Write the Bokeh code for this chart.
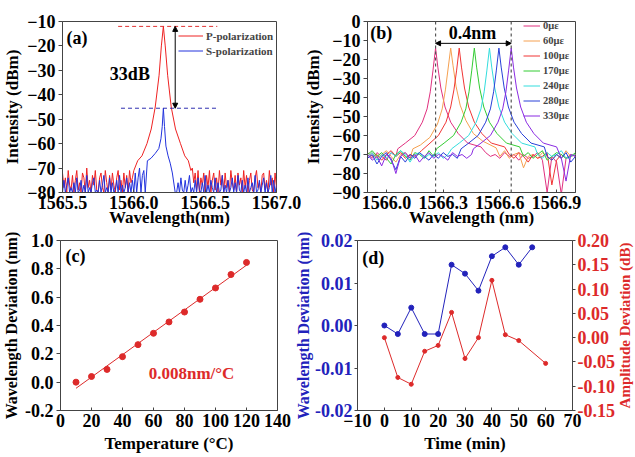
import numpy as np
from bokeh.plotting import figure
from bokeh.layouts import row, column
from bokeh.models import (Range1d, FixedTicker, NumeralTickFormatter, Span, Arrow,
                          NormalHead, Label, LinearAxis)
from bokeh.embed import file_html
from bokeh.resources import INLINE

FONT = "Liberation Serif"
AX = "#444444"

# ---------------- (a) polarization spectra ----------------
a_grid = [1565.50, 1565.51, 1565.52, 1565.53, 1565.54, 1565.55, 1565.56, 1565.57, 1565.58, 1565.59,
          1565.60, 1565.61, 1565.62, 1565.63, 1565.64, 1565.65, 1565.66, 1565.67, 1565.68, 1565.69,
          1565.70, 1565.71, 1565.72, 1565.73, 1565.74, 1565.75, 1565.76, 1565.77, 1565.78, 1565.79,
          1565.80, 1565.81, 1565.82, 1565.83, 1565.84, 1565.85, 1565.86, 1565.87, 1565.88, 1565.89,
          1565.90, 1565.91, 1565.92, 1565.93, 1565.94, 1565.95, 1565.96, 1565.97, 1565.98, 1565.99,
          1566.00, 1566.01, 1566.02, 1566.03, 1566.04, 1566.05, 1566.06, 1566.07, 1566.08, 1566.09,
          1566.10, 1566.11, 1566.12, 1566.13, 1566.14, 1566.15, 1566.16, 1566.17, 1566.18, 1566.19,
          1566.20, 1566.21, 1566.22, 1566.23, 1566.24, 1566.25, 1566.26, 1566.27, 1566.28, 1566.29,
          1566.30, 1566.31, 1566.32, 1566.33, 1566.34, 1566.35, 1566.36, 1566.37, 1566.38, 1566.39,
          1566.40, 1566.41, 1566.42, 1566.43, 1566.44, 1566.45, 1566.46, 1566.47, 1566.48, 1566.49,
          1566.50, 1566.51, 1566.52, 1566.53, 1566.54, 1566.55, 1566.56, 1566.57, 1566.58, 1566.59,
          1566.60, 1566.61, 1566.62, 1566.63, 1566.64, 1566.65, 1566.66, 1566.67, 1566.68, 1566.69,
          1566.70, 1566.71, 1566.72, 1566.73, 1566.74, 1566.75, 1566.76, 1566.77, 1566.78, 1566.79,
          1566.80, 1566.81, 1566.82, 1566.83, 1566.84, 1566.85, 1566.86, 1566.87, 1566.88, 1566.89,
          1566.90, 1566.91, 1566.92, 1566.93, 1566.94, 1566.95, 1566.96, 1566.97, 1566.98, 1566.99,
          1567.00]
a_p_peak_wl = [1566.00, 1566.027, 1566.057, 1566.092, 1566.122, 1566.15, 1566.177, 1566.193, 1566.207,
               1566.22, 1566.237, 1566.262, 1566.292, 1566.327, 1566.357, 1566.382, 1566.40]
a_p_peak_db = [-71, -67, -65, -60, -54, -45, -32, -20, -12, -20, -32, -45, -54, -60, -65, -67, -71]
a_p_noise_left = [-72, -78, -74, -80, -71, -77, -79, -73, -80, -75,
                  -71, -79, -76, -80, -72, -74, -80, -70, -78, -75,
                  -80, -73, -77, -71, -79, -80, -74, -72, -78, -80,
                  -71, -76, -80, -73, -79, -72, -77, -80, -74, -71,
                  -79, -75, -80, -72, -78, -73, -80, -71, -76, -74]
a_p_noise_right = [-70, -76, -72, -79, -71, -80, -74, -77, -72, -80,
                   -73, -78, -71, -80, -75, -72, -79, -74, -80, -71,
                   -77, -73, -80, -72, -78, -75, -80, -71, -76, -79,
                   -73, -80, -72, -77, -74, -80, -71, -78, -73, -80,
                   -75, -72, -79, -80, -74, -71, -78, -76, -80, -73,
                   -72, -79, -75, -80, -71, -77, -74, -80, -72, -78]
a_s_peak_wl = [1566.08, 1566.095, 1566.12, 1566.15, 1566.175, 1566.19, 1566.199, 1566.207,
               1566.215, 1566.225, 1566.24, 1566.255, 1566.27, 1566.29]
a_s_peak_db = [-80, -67, -66, -64, -62, -58, -53, -45.5, -53, -61, -65, -68, -72, -80]
a_s_noise_left = [-80, -75, -80, -77, -74, -80, -78, -80, -76, -80,
                  -74, -80, -79, -75, -80, -77, -80, -73, -80, -78,
                  -80, -76, -74, -80, -79, -80, -75, -80, -77, -73,
                  -80, -78, -80, -74, -80, -76, -80, -79, -75, -80,
                  -73, -80, -77, -80, -78, -74, -80, -76, -80, -75,
                  -80, -72, -80, -74, -70, -80, -73, -71]
a_s_noise_right = [-80, -76, -80, -74, -79, -80, -75, -80, -77, -73,
                   -80, -78, -80, -75, -80, -74, -79, -80, -76, -80,
                   -73, -80, -77, -80, -75, -78, -80, -74, -80, -76,
                   -80, -79, -73, -80, -77, -80, -75, -80, -78, -74,
                   -80, -76, -80, -73, -79, -80, -75, -80, -77, -80,
                   -74, -80, -78, -76, -80, -73, -80, -79, -75, -80,
                   -77, -74, -80, -76, -80, -78, -73, -80, -75, -80,
                   -77]
a_labels = ["P-polarization", "S-polarization"]
a_p_level = -12
a_s_level = -45.5
a_p_dash_wl = [1565.89, 1566.585]
a_s_dash_wl = [1565.91, 1566.59]
a_arrow_wl = 1566.29
a_xticks = [1565.5, 1566.0, 1566.5, 1567.0]
a_yticks = [-80, -70, -60, -50, -40, -30, -20, -10]

# ---------------- (b) strain spectra ----------------
b_grid = [1565.900, 1565.925, 1565.950, 1565.975, 1566.000, 1566.025, 1566.050, 1566.075, 1566.100,
          1566.125, 1566.150, 1566.175, 1566.200, 1566.225, 1566.250, 1566.275, 1566.300, 1566.325,
          1566.350, 1566.375, 1566.400, 1566.425, 1566.450, 1566.475, 1566.500, 1566.525, 1566.550,
          1566.575, 1566.600, 1566.625, 1566.650, 1566.675, 1566.700, 1566.725, 1566.750, 1566.775,
          1566.800, 1566.825, 1566.850, 1566.875, 1566.900, 1566.925, 1566.950, 1566.975, 1567.000]
b_labels = ["0με", "60με", "100με", "170με", "240με", "280με", "330με"]
b_colors = ["#E0307F", "#F5A050", "#F03535", "#33CC33", "#33DDDD", "#2840D8", "#8A2BE2"]
b_peak_wl = [
    [1566.06, 1566.10, 1566.15, 1566.19, 1566.215, 1566.232, 1566.246, 1566.26, 1566.272, 1566.288, 1566.31, 1566.34, 1566.38, 1566.43, 1566.50],
    [1566.14, 1566.18, 1566.23, 1566.27, 1566.295, 1566.312, 1566.326, 1566.34, 1566.352, 1566.368, 1566.39, 1566.42, 1566.46, 1566.51, 1566.58],
    [1566.185, 1566.225, 1566.275, 1566.315, 1566.34, 1566.357, 1566.371, 1566.385, 1566.397, 1566.413, 1566.435, 1566.465, 1566.505, 1566.555, 1566.625],
    [1566.265, 1566.305, 1566.355, 1566.395, 1566.42, 1566.437, 1566.451, 1566.465, 1566.477, 1566.493, 1566.515, 1566.545, 1566.585, 1566.635, 1566.705],
    [1566.345, 1566.385, 1566.435, 1566.475, 1566.50, 1566.517, 1566.531, 1566.545, 1566.557, 1566.573, 1566.595, 1566.625, 1566.665, 1566.715, 1566.785],
    [1566.395, 1566.435, 1566.485, 1566.525, 1566.55, 1566.567, 1566.581, 1566.595, 1566.607, 1566.623, 1566.645, 1566.675, 1566.715, 1566.765, 1566.835],
    [1566.46, 1566.50, 1566.55, 1566.59, 1566.615, 1566.632, 1566.646, 1566.66, 1566.672, 1566.688, 1566.71, 1566.74, 1566.78, 1566.83, 1566.90],
]
b_peak_db = [
    [-67, -64, -60, -53, -46, -37, -26, -14, -24, -35, -45, -53, -59, -64, -66],
    [-67, -65, -61, -54, -46, -36, -25, -14, -23, -34, -44, -52, -59, -63, -66.5],
    [-68, -64.5, -60, -53, -45, -36, -26, -14, -24, -35, -45, -53, -59, -64, -66],
    [-67, -64, -60, -53, -46, -37, -26, -14, -24, -35, -45, -53, -59, -64, -66],
    [-67, -64, -60, -53, -46, -37, -26, -14, -24, -35, -45, -53, -59, -64, -66],
    [-67, -64, -60, -53, -46, -37, -26, -14, -24, -35, -45, -53, -59, -64, -66],
    [-67, -64, -60, -53, -46, -37, -26, -14, -24, -35, -45, -53, -59, -64, -66],
]
b_noise_left = [
    [-70, -72, -69, -71, -73, -69, -71],
    [-71, -69, -72, -70, -68, -71, -74, -70, -69, -72],
    [-69, -71, -70, -73, -70, -68, -71, -69, -72, -70, -71, -69],
    [-70, -68, -71, -69, -72, -75, -70, -68, -71, -73, -69, -70, -72, -68, -71],
    [-71, -69, -73, -70, -72, -69, -71, -68, -70, -74, -70, -69, -72, -70, -71, -69, -72, -70],
    [-72, -70, -75, -71, -69, -73, -78, -71, -74, -70, -72, -69, -71, -73, -70, -72, -69, -71, -70, -72],
    [-70, -73, -71, -76, -70, -72, -80, -71, -69, -72, -70, -74, -71, -69, -72, -70, -71, -73, -69, -71, -70, -72, -70],
]
b_noise_right = [
    [-69, -71, -70, -72, -69, -71, -70, -73, -70, -72, -71, -69, -73, -90, -71, -74, -91, -72, -70, -71],
    [-71, -68, -72, -70, -69, -77, -71, -70, -72, -69, -71, -73, -70, -72, -68, -71, -70],
    [-70, -72, -69, -71, -74, -70, -72, -71, -69, -86, -73, -70, -72, -71, -70],
    [-71, -69, -72, -70, -68, -73, -71, -69, -70, -72, -71, -69],
    [-70, -72, -69, -71, -70, -68, -72, -71, -70],
    [-71, -73, -70, -72, -69, -74, -71],
    [-72, -84, -70, -71],
]
b_mark_wl = [1566.26, 1566.66]
b_arrow_db = -11.5
b_xticks = [1566.0, 1566.3, 1566.6, 1566.9]
b_yticks = [-90, -80, -70, -60, -50, -40, -30, -20, -10, 0]

# ---------------- (c) temperature ----------------
c_temp = [10, 20, 30, 40, 50, 60, 70, 80, 90, 100, 110, 120]
c_shift = [0.0, 0.04, 0.09, 0.18, 0.265, 0.345, 0.425, 0.495, 0.585, 0.665, 0.76, 0.845]
c_xticks = [0, 20, 40, 60, 80, 100, 120, 140]
c_yticks = [-0.2, 0.0, 0.2, 0.4, 0.6, 0.8, 1.0]

# ---------------- (d) stability ----------------
d_time_wl = [0, 5, 10, 15, 20, 25, 30, 35, 40, 45, 50, 55]
d_wl_dev = [0.0, -0.002, 0.0042, -0.002, -0.002, 0.0143, 0.0122, 0.0082, 0.0163, 0.0184, 0.0143, 0.0184]
d_time_amp = [0, 5, 10, 15, 20, 25, 30, 35, 40, 45, 50, 60]
d_amp_dev = [0.0, -0.082, -0.096, -0.028, -0.016, 0.052, -0.043, 0.0, 0.118, 0.006, -0.006, -0.053]
d_xticks = [-10, 0, 10, 20, 30, 40, 50, 60, 70]
d_yticks = [-0.02, -0.01, 0.0, 0.01, 0.02]
d_y2ticks = [-0.15, -0.10, -0.05, 0.0, 0.05, 0.10, 0.15, 0.20]

BLUE = "#2222BB"
RED = "#DD2A2A"


def assemble(grid, peak_wl, peak_db, left_vals, right_vals):
    lx = [w for w in grid if w < peak_wl[0]]
    rx = [w for w in grid if w > peak_wl[-1]]
    xs, ys = [], []
    for w, v in zip(lx, left_vals):
        xs.append(w); ys.append(v)
    xs += list(peak_wl); ys += list(peak_db)
    for w, v in zip(rx, right_vals):
        xs.append(w); ys.append(v)
    return xs, ys


def style_axis(ax, color="black", tick_std=3, label_std=2, tin=0, tout=4,
               label_size="17px", tick_size="18px"):
    ax.major_label_text_font = FONT
    ax.major_label_text_font_style = "bold"
    ax.major_label_text_font_size = tick_size
    ax.major_label_text_color = color
    ax.axis_label_text_font = FONT
    ax.axis_label_text_font_style = "bold"
    ax.axis_label_text_font_size = label_size
    ax.axis_label_text_color = color
    ax.axis_line_color = AX
    ax.major_tick_line_color = AX
    ax.minor_tick_line_color = None
    ax.major_tick_in = tin
    ax.major_tick_out = tout
    ax.major_label_standoff = tick_std
    ax.axis_label_standoff = label_std


def make_fig(w, h, l, r, t, b, xr, yr):
    p = figure(width=w, height=h, x_range=xr, y_range=yr, output_backend="svg",
               toolbar_location=None, min_border_left=l, min_border_right=r,
               min_border_top=t, min_border_bottom=b)
    p.xgrid.visible = False
    p.ygrid.visible = False
    p.outline_line_color = AX
    p.outline_line_width = 1
    return p


def add_text(p, txt, x, y, size="18px", color="black", align="left", angle=0.0, **kw):
    p.add_layout(Label(x=x, y=y, text=txt, text_font=FONT, text_font_style="bold",
                       text_font_size=size, text_color=color, text_baseline="middle",
                       text_align=align, angle=angle, **kw))


def style_legend(lg, loc, row_h, spacing, glyph_w, size):
    lg.location = loc
    lg.padding = 0
    lg.margin = 0
    lg.spacing = spacing
    lg.label_height = row_h
    lg.glyph_height = row_h
    lg.glyph_width = glyph_w
    lg.label_standoff = 3
    lg.border_line_color = None
    lg.background_fill_alpha = 0
    lg.label_text_font = FONT
    lg.label_text_font_style = "bold"
    lg.label_text_font_size = size


def head():
    return NormalHead(size=5, fill_color="black", line_color="black")


H1, H2 = 230, 226

# ---------- figure (a) ----------
pa = make_fig(301, H1, 59, 25, 18, 38, Range1d(1565.5, 1567.0), Range1d(-80, -10))
xs, ys = assemble(a_grid, a_p_peak_wl, a_p_peak_db, a_p_noise_left, a_p_noise_right)
pa.line(xs, ys, color="#EE2222", line_width=1, legend_label=a_labels[0])
xs, ys = assemble(a_grid, a_s_peak_wl, a_s_peak_db, a_s_noise_left, a_s_noise_right)
pa.line(xs, ys, color="#2233DD", line_width=1, legend_label=a_labels[1])
pa.line(a_p_dash_wl, [a_p_level, a_p_level], color="#E03030", line_dash="4 3", line_width=1)
pa.line(a_s_dash_wl, [a_s_level, a_s_level], color="#3030B0", line_dash="4 3", line_width=1)
pa.add_layout(Arrow(start=head(), end=head(), x_start=a_arrow_wl, y_start=a_s_level,
                    x_end=a_arrow_wl, y_end=a_p_level, line_width=1, line_color="black"))
add_text(pa, "33dB", 1565.832, -31.6)
add_text(pa, "(a)", 1565.528, -16.8)
pa.xaxis.ticker = FixedTicker(ticks=a_xticks)
pa.xaxis.formatter = NumeralTickFormatter(format="0.0")
pa.yaxis.ticker = FixedTicker(ticks=a_yticks)
pa.xaxis.axis_label = "Wavelength(nm)"
pa.yaxis.axis_label = "Intensity (dBm)"
style_axis(pa.xaxis[0], tick_std=3, label_std=-4, tin=3, tout=0)
style_axis(pa.yaxis[0], tick_std=3, label_std=2)
style_legend(pa.legend[0], (116, 134), 15, 0, 25, "11px")

# ---------- figure (b) ----------
pb = make_fig(333, H1, 56, 59, 21, 38, Range1d(1565.9, 1567.0), Range1d(-90, 0))
for k in range(len(b_labels)):
    xs, ys = assemble(b_grid, b_peak_wl[k], b_peak_db[k], b_noise_left[k], b_noise_right[k])
    pb.line(xs, ys, color=b_colors[k], line_width=1, legend_label=b_labels[k])
for wl in b_mark_wl:
    pb.add_layout(Span(location=wl, dimension="height", line_color="#555555",
                       line_dash="3 3", line_width=1.2))
pb.add_layout(Arrow(start=head(), end=head(), x_start=b_mark_wl[0], y_start=b_arrow_db,
                    x_end=b_mark_wl[1], y_end=b_arrow_db, line_width=1, line_color="black"))
add_text(pb, "0.4nm", 1566.455, -6.0, align="center")
add_text(pb, "(b)", 1565.915, -6.3)
pb.xaxis.ticker = FixedTicker(ticks=b_xticks)
pb.xaxis.formatter = NumeralTickFormatter(format="0.0")
pb.yaxis.ticker = FixedTicker(ticks=b_yticks)
pb.xaxis.axis_label = "Wavelength (nm)"
pb.yaxis.axis_label = "Intensity (dBm)"
style_axis(pb.xaxis[0], tick_std=3, label_std=-4, tin=3, tout=0)
style_axis(pb.yaxis[0], tick_std=3, label_std=6)
style_legend(pb.legend[0], (156, 70), 13, 2, 17, "10.5px")

# ---------- figure (c) ----------
pc = make_fig(292, H2, 58, 15, 10, 46, Range1d(0, 140), Range1d(-0.2, 1.0))
slope, intercept = np.polyfit(c_temp, c_shift, 1)
fit_x = [c_temp[0], c_temp[-1]]
fit_y = [slope * x + intercept for x in fit_x]
pc.line(fit_x, fit_y, color=RED, line_width=1)
pc.scatter(c_temp, c_shift, size=6, color=RED)
add_text(pc, "0.008nm/°C", 56.9, 0.058, size="17px", color=RED)
add_text(pc, "(c)", 3.2, 0.89)
pc.xaxis.ticker = FixedTicker(ticks=c_xticks)
pc.yaxis.ticker = FixedTicker(ticks=c_yticks)
pc.yaxis.formatter = NumeralTickFormatter(format="0.0")
pc.xaxis.axis_label = "Temperature (°C)"
pc.yaxis.axis_label = "Wavelength Deviation (nm)"
style_axis(pc.xaxis[0], tick_std=3, label_std=4, tin=3, tout=0)
style_axis(pc.yaxis[0], tick_std=3, label_std=2, label_size="16px")

# ---------- figure (d) ----------
pd_ = make_fig(325, H2, 61, 44, 10, 46, Range1d(-10, 70), Range1d(-0.02, 0.02))
pd_.extra_y_ranges = {"amp": Range1d(-0.15, 0.20)}
pd_.line(d_time_wl, d_wl_dev, color=BLUE, line_width=1)
pd_.scatter(d_time_wl, d_wl_dev, size=5, color=BLUE)
pd_.line(d_time_amp, d_amp_dev, color=RED, line_width=1, y_range_name="amp")
pd_.scatter(d_time_amp, d_amp_dev, size=4, color=RED, y_range_name="amp")
add_text(pd_, "(d)", -8.2, 0.016)
pd_.xaxis.ticker = FixedTicker(ticks=d_xticks)
pd_.yaxis.ticker = FixedTicker(ticks=d_yticks)
pd_.yaxis.formatter = NumeralTickFormatter(format="0.00")
pd_.xaxis.axis_label = "Time (min)"
pd_.yaxis.axis_label = "Wavelength Deviation (nm)"
style_axis(pd_.xaxis[0], tick_std=3, label_std=4, tin=3, tout=0)
style_axis(pd_.yaxis[0], color=BLUE, tick_std=2, label_std=0, tout=3, label_size="16px")
ax2 = LinearAxis(y_range_name="amp", ticker=FixedTicker(ticks=d_y2ticks),
                 formatter=NumeralTickFormatter(format="0.00"))
style_axis(ax2, color=RED, tick_std=2, label_std=0, tout=3)
pd_.add_layout(ax2, "right")

# narrow strip that carries the right-hand axis title of (d), reading bottom to top
d_y2_title = "Amplitude Deviation (dB)"
pt = figure(width=17, height=H2, x_range=Range1d(0, 1), y_range=Range1d(0, 1), title=None,
            x_axis_type=None, y_axis_type=None, output_backend="svg", toolbar_location=None,
            min_border_left=0, min_border_right=0, min_border_top=0, min_border_bottom=0)
pt.outline_line_color = None
add_text(pt, d_y2_title, 0.45, 0.5, size="15px", color=RED, align="center",
         angle=np.pi / 2)

layout = column(row(pa, pb), row(pc, pd_, pt))
open("out.html", "w").write(file_html(layout, INLINE))
